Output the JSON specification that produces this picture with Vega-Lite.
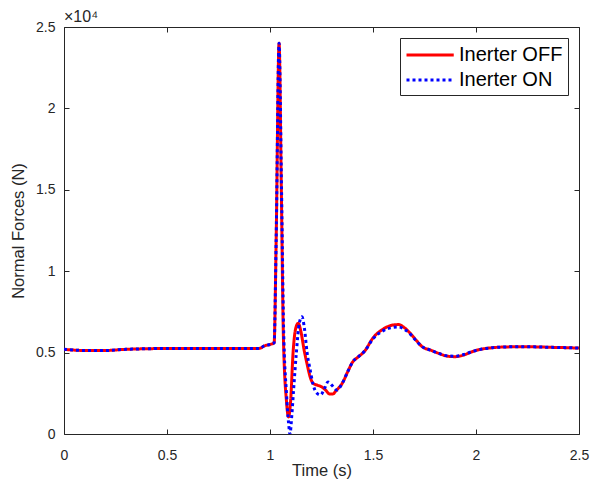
{
  "$schema": "https://vega.github.io/schema/vega-lite/v6.json",
  "width": 515,
  "height": 407,
  "autosize": {"type": "none"},
  "padding": {"left": 64, "top": 27, "right": 14, "bottom": 47},
  "background": "white",
  "title": {"text": "×10⁴", "anchor": "start", "frame": "group", "fontSize": 16, "fontWeight": "normal", "font": "Liberation Sans", "color": "#262626", "offset": -5},
  "config": {
    "view": {"stroke": "#262626", "strokeWidth": 1},
    "font": "Liberation Sans",
    "axis": {"grid": false, "domain": false, "labelFlush": false, "tickColor": "#262626", "labelColor": "#262626", "titleColor": "#262626", "labelFont": "Liberation Sans", "titleFont": "Liberation Sans", "labelFontSize": 14, "titleFontSize": 16.5, "titleFontWeight": "normal", "tickSize": -5}
  },
  "data": {"values": [
    {"t": 0, "F": 5200, "s": "Inerter OFF"},
    {"t": 0.1, "F": 5130, "s": "Inerter OFF"},
    {"t": 0.2, "F": 5130, "s": "Inerter OFF"},
    {"t": 0.3, "F": 5200, "s": "Inerter OFF"},
    {"t": 0.5, "F": 5250, "s": "Inerter OFF"},
    {"t": 0.7, "F": 5250, "s": "Inerter OFF"},
    {"t": 0.9, "F": 5250, "s": "Inerter OFF"},
    {"t": 0.95, "F": 5260, "s": "Inerter OFF"},
    {"t": 0.97, "F": 5400, "s": "Inerter OFF"},
    {"t": 1.0, "F": 5500, "s": "Inerter OFF"},
    {"t": 1.02, "F": 5600, "s": "Inerter OFF"},
    {"t": 1.03, "F": 12000, "s": "Inerter OFF"},
    {"t": 1.044, "F": 24000, "s": "Inerter OFF"},
    {"t": 1.055, "F": 15000, "s": "Inerter OFF"},
    {"t": 1.065, "F": 6000, "s": "Inerter OFF"},
    {"t": 1.08, "F": 2000, "s": "Inerter OFF"},
    {"t": 1.09, "F": 1050, "s": "Inerter OFF"},
    {"t": 1.1, "F": 2000, "s": "Inerter OFF"},
    {"t": 1.112, "F": 5000, "s": "Inerter OFF"},
    {"t": 1.125, "F": 6500, "s": "Inerter OFF"},
    {"t": 1.137, "F": 6800, "s": "Inerter OFF"},
    {"t": 1.15, "F": 6300, "s": "Inerter OFF"},
    {"t": 1.165, "F": 5200, "s": "Inerter OFF"},
    {"t": 1.18, "F": 4300, "s": "Inerter OFF"},
    {"t": 1.195, "F": 3500, "s": "Inerter OFF"},
    {"t": 1.21, "F": 3100, "s": "Inerter OFF"},
    {"t": 1.23, "F": 3000, "s": "Inerter OFF"},
    {"t": 1.25, "F": 2900, "s": "Inerter OFF"},
    {"t": 1.27, "F": 2700, "s": "Inerter OFF"},
    {"t": 1.29, "F": 2450, "s": "Inerter OFF"},
    {"t": 1.305, "F": 2450, "s": "Inerter OFF"},
    {"t": 1.32, "F": 2650, "s": "Inerter OFF"},
    {"t": 1.35, "F": 3100, "s": "Inerter OFF"},
    {"t": 1.38, "F": 3900, "s": "Inerter OFF"},
    {"t": 1.4, "F": 4400, "s": "Inerter OFF"},
    {"t": 1.43, "F": 4750, "s": "Inerter OFF"},
    {"t": 1.46, "F": 5100, "s": "Inerter OFF"},
    {"t": 1.5, "F": 5900, "s": "Inerter OFF"},
    {"t": 1.55, "F": 6450, "s": "Inerter OFF"},
    {"t": 1.6, "F": 6700, "s": "Inerter OFF"},
    {"t": 1.625, "F": 6720, "s": "Inerter OFF"},
    {"t": 1.65, "F": 6550, "s": "Inerter OFF"},
    {"t": 1.68, "F": 6200, "s": "Inerter OFF"},
    {"t": 1.71, "F": 5750, "s": "Inerter OFF"},
    {"t": 1.74, "F": 5350, "s": "Inerter OFF"},
    {"t": 1.78, "F": 5150, "s": "Inerter OFF"},
    {"t": 1.82, "F": 4950, "s": "Inerter OFF"},
    {"t": 1.86, "F": 4780, "s": "Inerter OFF"},
    {"t": 1.9, "F": 4750, "s": "Inerter OFF"},
    {"t": 1.94, "F": 4850, "s": "Inerter OFF"},
    {"t": 1.98, "F": 5050, "s": "Inerter OFF"},
    {"t": 2.03, "F": 5220, "s": "Inerter OFF"},
    {"t": 2.08, "F": 5300, "s": "Inerter OFF"},
    {"t": 2.15, "F": 5350, "s": "Inerter OFF"},
    {"t": 2.25, "F": 5360, "s": "Inerter OFF"},
    {"t": 2.35, "F": 5330, "s": "Inerter OFF"},
    {"t": 2.5, "F": 5280, "s": "Inerter OFF"},
    {"t": 0, "F": 5200, "s": "Inerter ON"},
    {"t": 0.1, "F": 5130, "s": "Inerter ON"},
    {"t": 0.2, "F": 5130, "s": "Inerter ON"},
    {"t": 0.3, "F": 5200, "s": "Inerter ON"},
    {"t": 0.5, "F": 5250, "s": "Inerter ON"},
    {"t": 0.7, "F": 5250, "s": "Inerter ON"},
    {"t": 0.9, "F": 5250, "s": "Inerter ON"},
    {"t": 0.95, "F": 5260, "s": "Inerter ON"},
    {"t": 0.97, "F": 5400, "s": "Inerter ON"},
    {"t": 1.0, "F": 5500, "s": "Inerter ON"},
    {"t": 1.02, "F": 5600, "s": "Inerter ON"},
    {"t": 1.03, "F": 12000, "s": "Inerter ON"},
    {"t": 1.044, "F": 24000, "s": "Inerter ON"},
    {"t": 1.056, "F": 15000, "s": "Inerter ON"},
    {"t": 1.066, "F": 6500, "s": "Inerter ON"},
    {"t": 1.08, "F": 2500, "s": "Inerter ON"},
    {"t": 1.09, "F": 700, "s": "Inerter ON"},
    {"t": 1.097, "F": 0, "s": "Inerter ON"},
    {"t": 1.105, "F": 1000, "s": "Inerter ON"},
    {"t": 1.115, "F": 2800, "s": "Inerter ON"},
    {"t": 1.128, "F": 5000, "s": "Inerter ON"},
    {"t": 1.142, "F": 6800, "s": "Inerter ON"},
    {"t": 1.155, "F": 7200, "s": "Inerter ON"},
    {"t": 1.168, "F": 6400, "s": "Inerter ON"},
    {"t": 1.18, "F": 5000, "s": "Inerter ON"},
    {"t": 1.194, "F": 4000, "s": "Inerter ON"},
    {"t": 1.21, "F": 3000, "s": "Inerter ON"},
    {"t": 1.225, "F": 2550, "s": "Inerter ON"},
    {"t": 1.245, "F": 2400, "s": "Inerter ON"},
    {"t": 1.265, "F": 2800, "s": "Inerter ON"},
    {"t": 1.282, "F": 3200, "s": "Inerter ON"},
    {"t": 1.3, "F": 3000, "s": "Inerter ON"},
    {"t": 1.325, "F": 2700, "s": "Inerter ON"},
    {"t": 1.35, "F": 3100, "s": "Inerter ON"},
    {"t": 1.38, "F": 3900, "s": "Inerter ON"},
    {"t": 1.4, "F": 4400, "s": "Inerter ON"},
    {"t": 1.43, "F": 4750, "s": "Inerter ON"},
    {"t": 1.46, "F": 5100, "s": "Inerter ON"},
    {"t": 1.5, "F": 5850, "s": "Inerter ON"},
    {"t": 1.55, "F": 6350, "s": "Inerter ON"},
    {"t": 1.6, "F": 6550, "s": "Inerter ON"},
    {"t": 1.625, "F": 6570, "s": "Inerter ON"},
    {"t": 1.65, "F": 6450, "s": "Inerter ON"},
    {"t": 1.68, "F": 6150, "s": "Inerter ON"},
    {"t": 1.71, "F": 5720, "s": "Inerter ON"},
    {"t": 1.74, "F": 5350, "s": "Inerter ON"},
    {"t": 1.78, "F": 5150, "s": "Inerter ON"},
    {"t": 1.82, "F": 4950, "s": "Inerter ON"},
    {"t": 1.86, "F": 4800, "s": "Inerter ON"},
    {"t": 1.9, "F": 4780, "s": "Inerter ON"},
    {"t": 1.94, "F": 4880, "s": "Inerter ON"},
    {"t": 1.98, "F": 5060, "s": "Inerter ON"},
    {"t": 2.03, "F": 5220, "s": "Inerter ON"},
    {"t": 2.08, "F": 5300, "s": "Inerter ON"},
    {"t": 2.15, "F": 5350, "s": "Inerter ON"},
    {"t": 2.25, "F": 5360, "s": "Inerter ON"},
    {"t": 2.35, "F": 5330, "s": "Inerter ON"},
    {"t": 2.5, "F": 5280, "s": "Inerter ON"}
  ]},
  "layer": [
    {
      "mark": {"type": "point", "opacity": 0},
      "encoding": {
        "x": {"field": "t", "type": "quantitative", "scale": {"domain": [0, 2.5], "nice": false}, "axis": {"orient": "top", "title": null, "labels": false, "values": [0, 0.5, 1, 1.5, 2, 2.5]}},
        "y": {"field": "F", "type": "quantitative", "scale": {"domain": [0, 25000], "nice": false}, "axis": {"orient": "right", "title": null, "labels": false, "values": [0, 5000, 10000, 15000, 20000, 25000]}}
      }
    },
    {
      "mark": {"type": "line", "strokeWidth": 3, "strokeCap": "butt", "interpolate": "monotone", "clip": true},
      "encoding": {
        "x": {"field": "t", "type": "quantitative", "scale": {"domain": [0, 2.5], "nice": false}, "axis": {"orient": "bottom", "title": "Time (s)", "values": [0, 0.5, 1, 1.5, 2, 2.5], "labelExpr": "'' + datum.value", "labelPadding": 19, "titlePadding": 0}},
        "y": {"field": "F", "type": "quantitative", "scale": {"domain": [0, 25000], "nice": false}, "axis": {"orient": "left", "title": "Normal Forces (N)", "values": [0, 5000, 10000, 15000, 20000, 25000], "labelExpr": "'' + datum.value / 10000", "labelPadding": 14, "titlePadding": 9}},
        "color": {"field": "s", "type": "nominal", "scale": {"domain": ["Inerter OFF", "Inerter ON"], "range": ["#FF0000", "#0000FF"]}, "legend": {"title": null, "orient": "top-right", "offset": 11, "labelFontSize": 20, "labelFont": "Liberation Sans", "labelColor": "#000000", "symbolType": "M-1,0H3.5", "symbolSize": 441, "symbolStrokeWidth": 3, "strokeColor": "#262626", "fillColor": "white", "padding": 5, "rowPadding": 3, "labelOffset": 30}},
        "strokeDash": {"field": "s", "type": "nominal", "scale": {"domain": ["Inerter OFF", "Inerter ON"], "range": [[1, 0], [3, 3]]}, "legend": null},
        "order": {"field": "s"}
      }
    }
  ],
  "resolve": {"axis": {"x": "independent", "y": "independent"}}
}
